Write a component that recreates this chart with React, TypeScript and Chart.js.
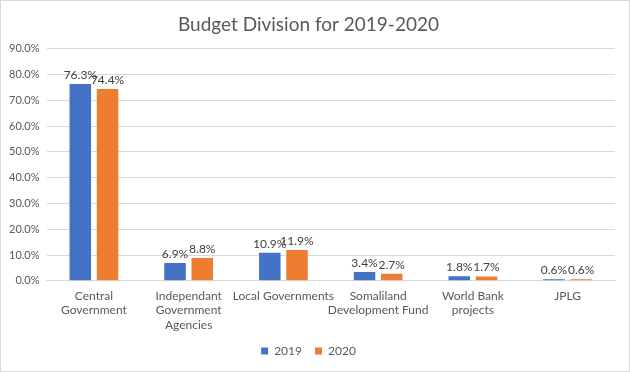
import React, { useEffect, useRef } from "react";
import { Chart, registerables } from "chart.js";

Chart.register(...registerables);

const categories: (string | string[])[] = [
  ["Central", "Government"],
  ["Independant", "Government", "Agencies"],
  "Local Governments",
  ["Somaliland", "Development Fund"],
  ["World Bank", "projects"],
  "JPLG",
];
const values2019 = [76.3, 6.9, 10.9, 3.4, 1.8, 0.6];
const values2020 = [74.4, 8.8, 11.9, 2.7, 1.7, 0.6];
const yTicks = [0, 10, 20, 30, 40, 50, 60, 70, 80, 90];

const FONT = "Lato, 'Open Sans', sans-serif";
const TEXT = "#595959";

const dataLabels = {
  id: "dataLabels",
  afterDatasetsDraw(chart: any) {
    const ctx = chart.ctx;
    ctx.save();
    ctx.font = `12px ${FONT}`;
    ctx.fillStyle = "#404040";
    ctx.textAlign = "center";
    ctx.textBaseline = "bottom";
    chart.data.datasets.forEach((ds: any, i: number) => {
      const meta = chart.getDatasetMeta(i);
      meta.data.forEach((el: any, j: number) => {
        ctx.fillText(ds.data[j].toFixed(1) + "%", el.x, el.y - 3);
      });
    });
    ctx.restore();
  },
};

export default function App() {
  const ref = useRef<HTMLCanvasElement>(null);
  useEffect(() => {
    document.body.style.margin = "0";
    const chart = new Chart(ref.current!, {
      type: "bar",
      data: {
        labels: categories,
        datasets: [
          { label: "2019", data: values2019, backgroundColor: "#4472C4", categoryPercentage: 0.575, barPercentage: 0.79 },
          { label: "2020", data: values2020, backgroundColor: "#ED7D31", categoryPercentage: 0.575, barPercentage: 0.79 },
        ],
      },
      options: {
        animation: false,
        responsive: false,
        maintainAspectRatio: false,
        layout: { padding: { left: 1, right: 14, top: 0, bottom: 4 } },
        plugins: {
          title: {
            display: true,
            text: "Budget Division for 2019-2020",
            color: TEXT,
            font: { family: FONT, size: 19, weight: "normal" },
            padding: { top: 12, bottom: 13 },
          },
          legend: {
            position: "bottom",
            labels: {
              boxWidth: 7,
              boxHeight: 7,
              color: TEXT,
              font: { family: FONT, size: 12 },
              padding: 13,
            },
          },
          tooltip: { enabled: false },
        },
        scales: {
          x: {
            grid: { display: false },
            border: { color: "#d9d9d9" },
            ticks: {
              color: TEXT,
              font: { family: FONT, size: 12 },
              maxRotation: 0,
              autoSkip: false,
              padding: 0,
            },
          },
          y: {
            min: 0,
            max: 90,
            afterBuildTicks: (axis: any) => {
              axis.ticks = yTicks.map((v) => ({ value: v }));
            },
            grid: { color: "#d9d9d9", drawTicks: false },
            border: { display: false },
            ticks: {
              color: TEXT,
              font: { family: FONT, size: 11 },
              padding: 7,
              callback: (v: any) => Number(v).toFixed(1) + "%",
            },
          },
        },
      },
      plugins: [dataLabels],
    });
    return () => chart.destroy();
  }, []);
  return (
    <div style={{ width: 630, height: 372, boxSizing: "border-box", border: "1px solid #d9d9d9", background: "#fff" }}>
      <canvas ref={ref} width={628} height={370} />
    </div>
  );
}
